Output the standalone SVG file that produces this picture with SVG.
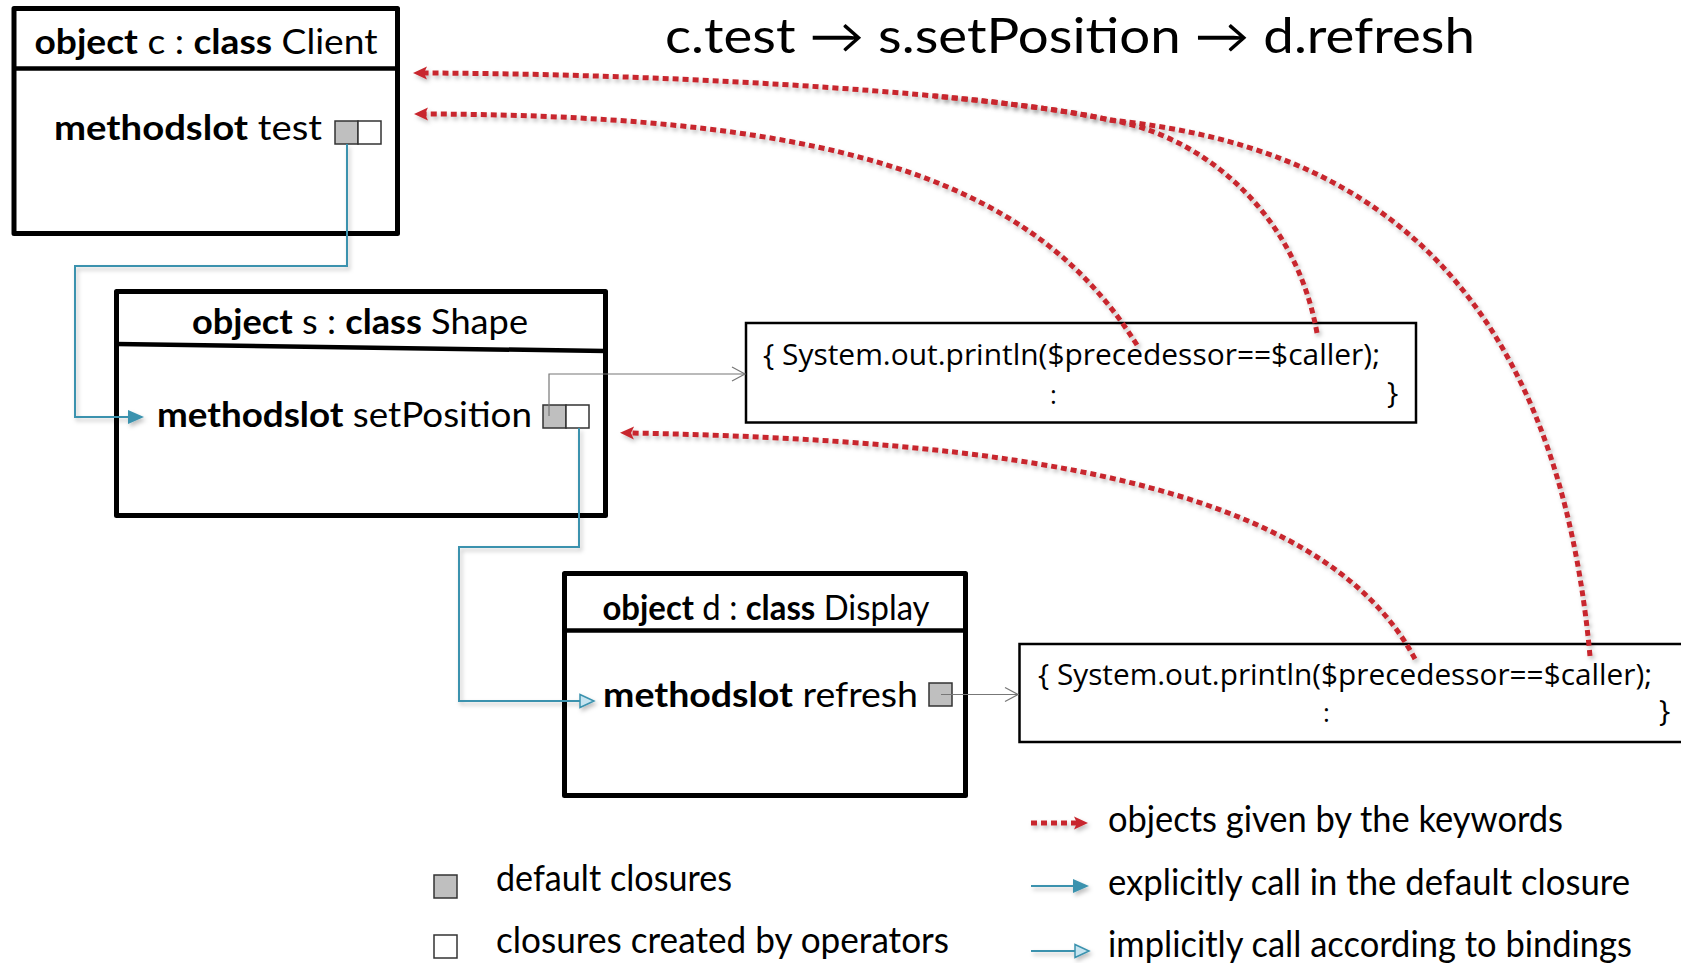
<svg xmlns="http://www.w3.org/2000/svg" width="1681" height="963" viewBox="0 0 1681 963">
  <defs>
    <style>
      text { font-family: Lato, "Open Sans", sans-serif; fill: #000; }
      .title { font-size: 48px; }
      .hd { font-size: 34px; }
      .ms { font-size: 34px; }
      .b { font-weight: 700; }
      .code { font-family: "Open Sans", sans-serif; font-size: 30px; }
      .dots { font-size: 26px; }
      .lg { font-size: 36px; }
      .frame { fill: #fff; stroke: #000; stroke-width: 5; stroke-linejoin: round; }
      .divider { stroke: #000; stroke-width: 4.5; }
      .slot-default { fill: #bfbfbf; stroke: #333; stroke-width: 1.5; }
      .slot-op { fill: #fff; stroke: #333; stroke-width: 1.5; }
      .codebox { fill: #fff; stroke: #000; stroke-width: 2.5; }
      .kw { fill: none; stroke: #c8282e; stroke-width: 5; stroke-dasharray: 6 4; filter: url(#shadow); }
      .head { marker-end: url(#redHead); }
      .call { fill: none; stroke: #3a92ae; stroke-width: 2; filter: url(#shadow); }
      .explicit { marker-end: url(#blueFilled); }
      .implicit { marker-end: url(#blueOpen); }
      .ref { fill: none; stroke: #777; stroke-width: 1.2; marker-end: url(#grayOpen); }
    </style>
    <filter id="shadow" filterUnits="userSpaceOnUse" x="0" y="0" width="1681" height="963">
      <feDropShadow dx="2" dy="3" stdDeviation="2" flood-color="#000" flood-opacity="0.25"/>
    </filter>
    <marker id="redHead" markerUnits="userSpaceOnUse" orient="auto" refX="0" refY="0" markerWidth="20" markerHeight="20" style="overflow:visible">
      <path d="M-3,-6.5 L11,0 L-3,6.5 L0,0 z" fill="#c8282e"/>
    </marker>
    <marker id="blueFilled" markerUnits="userSpaceOnUse" orient="auto" refX="0" refY="0" markerWidth="20" markerHeight="20" style="overflow:visible">
      <path d="M0,-7 L16,0 L0,7 z" fill="#3a92ae"/>
    </marker>
    <marker id="blueOpen" markerUnits="userSpaceOnUse" orient="auto" refX="0" refY="0" markerWidth="20" markerHeight="20" style="overflow:visible">
      <path d="M0,-6.5 L14,0 L0,6.5 z" fill="#c6e4f0" stroke="#3a92ae" stroke-width="1.5"/>
    </marker>
    <marker id="grayOpen" markerUnits="userSpaceOnUse" orient="auto" refX="0" refY="0" markerWidth="20" markerHeight="20" style="overflow:visible">
      <path d="M-13,-7 L0,0 L-13,7" fill="none" stroke="#777" stroke-width="1.2"/>
    </marker>
  </defs>

  <rect width="1681" height="963" fill="#fff"/>

  <!-- call chain heading -->
  <text id="title" class="title" x="1070" y="53" text-anchor="middle" textLength="810" lengthAdjust="spacingAndGlyphs">c.test → s.setPosition → d.refresh</text>

  <!-- object c -->
  <g id="node-client">
    <rect class="frame" x="14" y="8.5" width="383.5" height="225"/>
    <line class="divider" x1="14" y1="68.5" x2="397.5" y2="68.5"/>
    <text class="hd" x="206" y="54" text-anchor="middle" textLength="343" lengthAdjust="spacingAndGlyphs"><tspan class="b">object</tspan> c : <tspan class="b">class</tspan> Client</text>
    <text class="ms" x="54" y="140" textLength="268" lengthAdjust="spacingAndGlyphs"><tspan class="b">methodslot</tspan> test</text>
    <rect class="slot-default" x="335" y="121" width="23" height="23"/>
    <rect class="slot-op" x="358" y="121" width="23" height="23"/>
  </g>

  <!-- object s -->
  <g id="node-shape">
    <rect class="frame" x="116.5" y="291.5" width="489" height="224"/>
    <line class="divider" x1="116.5" y1="344" x2="605.5" y2="351"/>
    <text class="hd" x="360" y="334" text-anchor="middle" textLength="336" lengthAdjust="spacingAndGlyphs"><tspan class="b">object</tspan> s : <tspan class="b">class</tspan> Shape</text>
    <text class="ms" x="157" y="427" textLength="375" lengthAdjust="spacingAndGlyphs"><tspan class="b">methodslot</tspan> setPosition</text>
    <rect class="slot-default" x="543" y="405" width="23" height="23"/>
    <rect class="slot-op" x="566" y="405" width="23" height="23"/>
  </g>

  <!-- object d -->
  <g id="node-display">
    <rect class="frame" x="564.5" y="573.5" width="401" height="222"/>
    <line class="divider" x1="564.5" y1="630.5" x2="965.5" y2="630.5"/>
    <text class="hd" x="766" y="620" text-anchor="middle" textLength="327" lengthAdjust="spacingAndGlyphs"><tspan class="b">object</tspan> d : <tspan class="b">class</tspan> Display</text>
    <text class="ms" x="603" y="707" textLength="315" lengthAdjust="spacingAndGlyphs"><tspan class="b">methodslot</tspan> refresh</text>
    <rect class="slot-default" x="929" y="683" width="23" height="23"/>
  </g>

  <!-- closure body of setPosition -->
  <g id="code-setposition">
    <rect class="codebox" x="746" y="323" width="670" height="99.5"/>
    <text class="code" x="763" y="365" textLength="617" lengthAdjust="spacingAndGlyphs">{ System.out.println($precedessor==$caller);</text>
    <text class="code dots" x="1050" y="404">:</text>
    <text class="code" x="1387" y="403">}</text>
  </g>

  <!-- closure body of refresh -->
  <g id="code-refresh">
    <rect class="codebox" x="1019.5" y="644" width="680" height="98"/>
    <text class="code" x="1038" y="685" textLength="614" lengthAdjust="spacingAndGlyphs">{ System.out.println($precedessor==$caller);</text>
    <text class="code dots" x="1323" y="722">:</text>
    <text class="code" x="1659" y="721">}</text>
  </g>

  <g id="connectors">
    <!-- default closures point at their bodies -->
    <path class="ref" d="M549,416 V374 H745"/>
    <path class="ref" d="M941,694.5 H1018"/>

    <!-- calls between method slots -->
    <path class="call explicit" d="M347,144 V266 H75 V417 H128"/>
    <path class="call implicit" d="M579,428 V547 H459 V701 H580"/>

    <!-- keyword references back to the objects -->
    <path class="kw" d="M1590,656 C1550,220 1300,140 1110,120 C1071.5,111.3 1009.7,103 934,96"/>
    <path class="kw head" d="M1317,333 C1295,210 1200,135 1110,120 C1000,95 700,74 424,73"/>
    <path class="kw head" d="M1137,345 C1040,190 860,115 425,114"/>
    <path class="kw head" d="M1415,659 C1320,480 1000,440 631,433"/>
  </g>

  <!-- key -->
  <g id="legend">
    <rect class="slot-default" x="434" y="875" width="23" height="23"/>
    <text class="lg" x="496" y="891" textLength="236" lengthAdjust="spacingAndGlyphs">default closures</text>
    <rect class="slot-op" x="434" y="935" width="23" height="23"/>
    <text class="lg" x="496" y="953" textLength="453" lengthAdjust="spacingAndGlyphs">closures created by operators</text>

    <path class="kw head" d="M1031,823 H1077"/>
    <text class="lg" x="1108" y="832" textLength="455" lengthAdjust="spacingAndGlyphs">objects given by the keywords</text>
    <path class="call explicit" d="M1031,886 H1073"/>
    <text class="lg" x="1108" y="895" textLength="522" lengthAdjust="spacingAndGlyphs">explicitly call in the default closure</text>
    <path class="call implicit" d="M1031,951 H1075"/>
    <text class="lg" x="1108" y="957" textLength="524" lengthAdjust="spacingAndGlyphs">implicitly call according to bindings</text>
  </g>
</svg>
